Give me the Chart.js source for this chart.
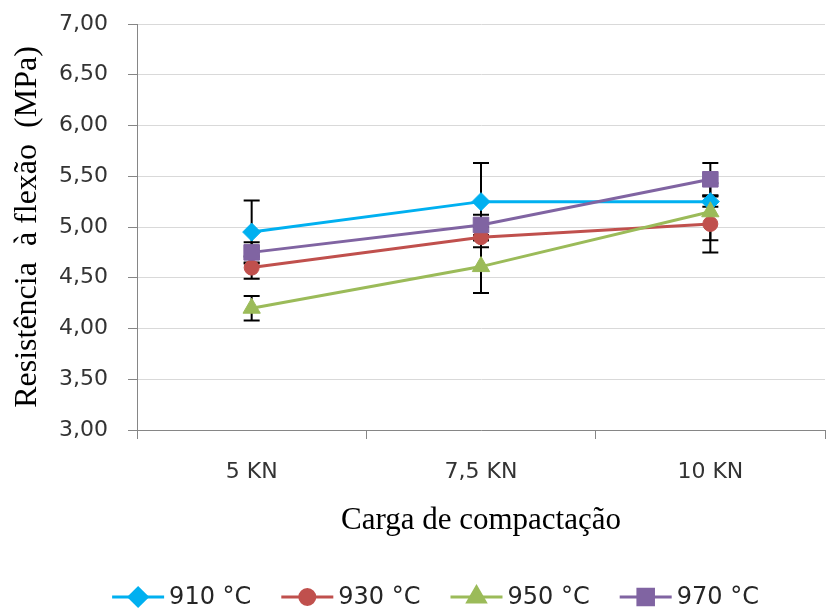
<!DOCTYPE html>
<html>
<head>
<meta charset="utf-8">
<style>
  html, body { margin: 0; padding: 0; background: #fff; }
  #wrap { width: 827px; height: 610px; }
</style>
<script src="https://cdn.jsdelivr.net/npm/chart.js@4/dist/chart.umd.min.js"></script>
</head>
<body>
<div id="wrap"><canvas id="chart" width="827" height="610"></canvas></div>
<script>
'use strict';

// data
const categories = ['5 KN', '7,5 KN', '10 KN'];
const seriesNames = ['910 °C', '930 °C', '950 °C', '970 °C'];
const s910 = [4.95, 5.25, 5.25];
const s930 = [4.60, 4.90, 5.03];
const s950 = [4.20, 4.61, 5.15];
const s970 = [4.75, 5.02, 5.47];
// +/- error values
const e910 = [0.31, 0.38, 0.05];
const e930 = [0.11, 0.10, 0.28];
const e950 = [0.12, 0.26, 0.28];
const e970 = [0.10, 0.10, 0.16];
const yMin = 3, yMax = 7, yStep = 0.5;

const colors = ['#00b0f0', '#c0504d', '#9bbb59', '#8064a2'];
const styles = ['rectRot', 'circle', 'triangle', 'rect'];
const radii = [9, 7.5, 10, 11];
const values = [s910, s930, s950, s970];
const errors = [e910, e930, e950, e970];

const tickFont = { family: 'DejaVu Sans', size: 22 };

// error bars, drawn under the markers
const errorBars = {
  id: 'errorBars',
  beforeDatasetsDraw(chart) {
    const { ctx } = chart;
    const y = chart.scales.y;
    ctx.save();
    ctx.strokeStyle = '#000';
    ctx.lineWidth = 2;
    chart.data.datasets.forEach((ds, di) => {
      const meta = chart.getDatasetMeta(di);
      meta.data.forEach((pt, i) => {
        const v = ds.data[i], e = ds.errors[i];
        const top = y.getPixelForValue(v + e);
        const bot = y.getPixelForValue(v - e);
        ctx.beginPath();
        ctx.moveTo(pt.x, top); ctx.lineTo(pt.x, bot);
        ctx.moveTo(pt.x - 8, top); ctx.lineTo(pt.x + 8, top);
        ctx.moveTo(pt.x - 8, bot); ctx.lineTo(pt.x + 8, bot);
        ctx.stroke();
      });
    });
    ctx.restore();
  },
};

// excel-like legend: line + marker + text
const lineLegend = {
  id: 'lineLegend',
  afterDraw(chart) {
    const { ctx } = chart;
    const lineW = 52, gap = 5, itemGap = 30;
    const yc = 597;
    ctx.save();
    ctx.font = '24px "DejaVu Sans"';
    ctx.textBaseline = 'middle';
    const widths = seriesNames.map((n) => lineW + gap + ctx.measureText(n).width);
    const total = widths.reduce((a, b) => a + b, 0) + itemGap * (widths.length - 1);
    let x = chart.width / 2 + 22 - total / 2;
    chart.data.datasets.forEach((ds, i) => {
      ctx.strokeStyle = ds.borderColor;
      ctx.lineWidth = 3;
      ctx.beginPath();
      ctx.moveTo(x, yc); ctx.lineTo(x + lineW, yc);
      ctx.stroke();
      ctx.fillStyle = ds.borderColor;
      Chart.helpers.drawPoint(ctx, {
        pointStyle: ds.pointStyle, radius: ds.pointRadius, rotation: 0, borderWidth: 1,
      }, x + lineW / 2, yc);
      ctx.fillStyle = '#262626';
      ctx.fillText(seriesNames[i], x + lineW + gap, yc + 1);
      x += widths[i] + itemGap;
    });
    ctx.restore();
  },
};

new Chart(document.getElementById('chart'), {
  type: 'line',
  data: {
    labels: categories,
    datasets: values.map((d, i) => ({
      label: seriesNames[i],
      data: d,
      errors: errors[i],
      borderColor: colors[i],
      backgroundColor: colors[i],
      borderWidth: 3,
      pointStyle: styles[i],
      pointRadius: radii[i],
      pointHoverRadius: radii[i],
      pointBorderWidth: 1,
      tension: 0,
      fill: false,
      order: 4 - i,
    })),
  },
  options: {
    responsive: false,
    animation: false,
    layout: { autoPadding: false, padding: { left: 0, right: 2, top: 24, bottom: 65 } },
    plugins: { legend: { display: false }, tooltip: { enabled: false } },
    scales: {
      x: {
        offset: true,
        grid: { drawOnChartArea: false, offset: true, tickLength: 9, color: '#868686' },
        border: { color: '#868686', width: 1 },
        ticks: { font: tickFont, color: '#333', padding: 20 },
        title: {
          display: true, text: 'Carga de compactação',
          font: { family: 'Liberation Serif', size: 31 }, color: '#000',
          padding: { top: 20, bottom: 6 },
        },
        afterFit: (scale) => {
          scale.height = 115;
          scale.paddingLeft = 0;
          scale.paddingRight = 0;
        },
      },
      y: {
        min: yMin,
        max: yMax,
        grid: { color: '#d9d9d9', tickColor: '#868686', tickLength: 9 },
        border: { color: '#868686', width: 1 },
        ticks: {
          stepSize: yStep, font: tickFont, color: '#333', padding: 20,
          callback: (v) => v.toFixed(2).replace('.', ','),
        },
        title: {
          display: true, text: 'Resistência  à flexão  (MPa)',
          font: { family: 'Liberation Serif', size: 32 }, color: '#000',
          padding: { top: 8, bottom: 0 },
        },
        afterFit: (scale) => {
          scale.width = 137;
          scale.paddingTop = 0;
          scale.paddingBottom = 0;
        },
      },
    },
  },
  plugins: [errorBars, lineLegend],
});
</script>
</body>
</html>
